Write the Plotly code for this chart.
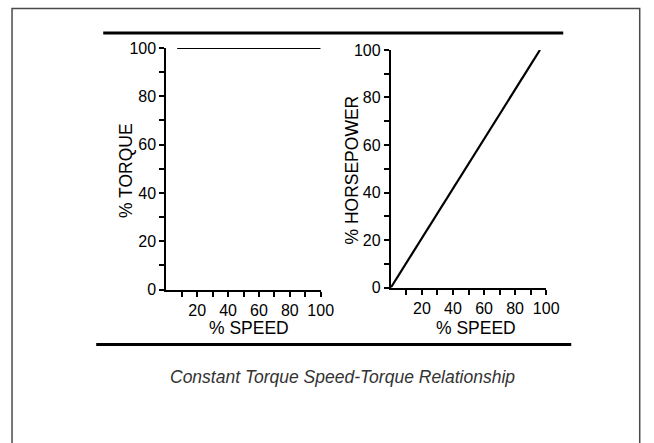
import plotly.graph_objects as go

# ---- data ----
speed_torque = [7, 100]
torque_pct = [100, 100]
speed_hp = [0, 96]
hp_pct = [0, 100]

y_tickvals = [0, 10, 20, 30, 40, 50, 60, 70, 80, 90, 100]
y_ticktext = ["0", "", "20", "", "40", "", "60", "", "80", "", "100"]
x_tickvals = [10, 20, 30, 40, 50, 60, 70, 80, 90, 100]
x_ticktext = ["", "20", "", "40", "", "60", "", "80", "", "100"]

caption = "Constant Torque Speed-Torque Relationship"

W, H = 654, 443
# map target picture pixels to page pixels (the photographed page comes out
# slightly shrunk and offset)
SX, OX = 0.978, 0.0
SY, OY = 0.963, 8.0
def px(x):
    return min(((x - OX) / SX) / W, 0.998)
def py(y):
    return 1 - ((y - OY) / SY) / H

FONT = "Liberation Sans, Arial, Helvetica, sans-serif"

fig = go.Figure()
fig.add_trace(go.Scatter(x=speed_torque, y=torque_pct, mode="lines",
                         line=dict(color="black", width=2.2),
                         xaxis="x", yaxis="y", showlegend=False, hoverinfo="skip"))
fig.add_trace(go.Scatter(x=speed_hp, y=hp_pct, mode="lines",
                         line=dict(color="black", width=2.2),
                         xaxis="x2", yaxis="y2", showlegend=False, hoverinfo="skip"))

axis_common = dict(showline=True, linecolor="black", linewidth=2, showgrid=False,
                   zeroline=False, ticks="outside", tickcolor="black", tickwidth=2,
                   ticklen=5, tickfont=dict(family=FONT, size=16, color="black"),
                   range=[0, 100], fixedrange=True)

fig.update_layout(
    width=W, height=H,
    margin=dict(l=0, r=0, t=0, b=0),
    paper_bgcolor="white", plot_bgcolor="white",
    xaxis=dict(domain=[px(166), px(320)], anchor="y", tickvals=x_tickvals,
               ticktext=x_ticktext, **axis_common),
    yaxis=dict(domain=[py(290), py(48)], anchor="x", tickvals=y_tickvals,
               ticktext=y_ticktext, **axis_common),
    xaxis2=dict(domain=[px(390), px(545)], anchor="y2", tickvals=x_tickvals,
                ticktext=x_ticktext, **axis_common),
    yaxis2=dict(domain=[py(288), py(50)], anchor="x2", tickvals=y_tickvals,
                ticktext=y_ticktext, **axis_common),
)

shapes = [
    # outer border
    dict(type="rect", xref="paper", yref="paper", x0=px(12), x1=px(642),
         y0=-0.05, y1=0.999, line=dict(color="#4a4a4a", width=1.5)),
    # top rule
    dict(type="line", xref="paper", yref="paper", x0=px(103), x1=px(562),
         y0=py(33), y1=py(33), line=dict(color="black", width=3)),
    # bottom rule
    dict(type="line", xref="paper", yref="paper", x0=px(96), x1=px(570),
         y0=py(345), y1=py(345), line=dict(color="black", width=3)),
]
fig.update_layout(shapes=shapes)

title_font = dict(family=FONT, size=17.5, color="black")
annotations = [
    dict(text="% TORQUE", x=px(125), y=py(171), xref="paper", yref="paper",
         textangle=-90, showarrow=False, font=title_font, xanchor="center", yanchor="middle"),
    dict(text="% SPEED", x=px(248), y=py(328), xref="paper", yref="paper",
         showarrow=False, font=title_font, xanchor="center", yanchor="middle"),
    dict(text="% HORSEPOWER", x=px(351), y=py(170), xref="paper", yref="paper",
         textangle=-90, showarrow=False, font=title_font, xanchor="center", yanchor="middle"),
    dict(text="% SPEED", x=px(475), y=py(328), xref="paper", yref="paper",
         showarrow=False, font=title_font, xanchor="center", yanchor="middle"),
    dict(text="<i>" + caption + "</i>", x=px(342), y=py(378), xref="paper", yref="paper",
         showarrow=False, font=dict(family=FONT, size=17.5, color="#333333"),
         xanchor="center", yanchor="middle"),
]
fig.update_layout(annotations=annotations)

fig.write_html("out.html", config={"displayModeBar": False},
               post_script="document.body.style.margin='0';document.body.style.overflow='hidden';")
